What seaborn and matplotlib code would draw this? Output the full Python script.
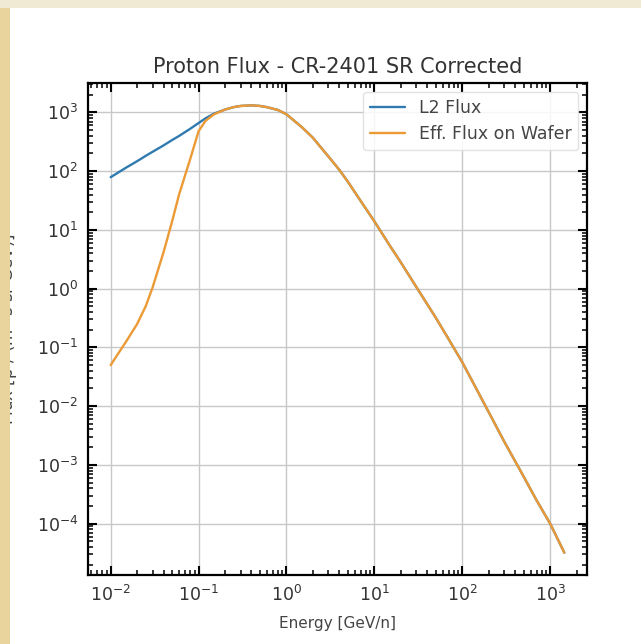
import numpy as np
import pandas as pd
import matplotlib
matplotlib.use("Agg")
import matplotlib.pyplot as plt
import matplotlib.ticker as mticker
from matplotlib.collections import LineCollection
import seaborn as sns
from matplotlib.patches import Rectangle

# ---- data ----
energy = [0.01, 0.015, 0.02, 0.025, 0.03, 0.04, 0.05, 0.06, 0.08, 0.1,
          0.12, 0.15, 0.2, 0.25, 0.3, 0.4, 0.5, 0.6, 0.8, 1.0,
          1.5, 2.0, 3.0, 4.0, 5.0, 7.0, 10.0, 15.0, 20.0, 30.0,
          50.0, 70.0, 100.0, 200.0, 300.0, 500.0, 700.0, 1000.0, 1450.0]

l2_flux = [79, 115, 148, 182, 214, 275, 339, 398, 525, 660,
           794, 955, 1120, 1230, 1290, 1320, 1290, 1230, 1100, 930,
           560, 370, 178, 105, 66, 31, 14, 5.4, 2.8, 1.07,
           0.32, 0.138, 0.056, 0.0079, 0.0025, 6.3e-4, 2.5e-4, 1.0e-4, 3.2e-5]

eff_flux = [0.05, 0.126, 0.25, 0.5, 1.05, 4.2, 14, 40, 158, 480,
            720, 930, 1120, 1230, 1290, 1320, 1290, 1230, 1100, 930,
            560, 370, 178, 105, 66, 31, 14, 5.4, 2.8, 1.07,
            0.32, 0.138, 0.056, 0.0079, 0.0025, 6.3e-4, 2.5e-4, 1.0e-4, 3.2e-5]

series_names = ["L2 Flux", "Eff. Flux on Wafer"]
title = "Proton Flux - CR-2401 SR Corrected"
xlabel = "Energy [GeV/n]"
ylabel = "Flux [p / (m$^2$ s sr GeV)]"

df = pd.DataFrame({
    "Energy": energy * 2,
    "Flux": l2_flux + eff_flux,
    "Series": [series_names[0]] * len(energy) + [series_names[1]] * len(energy),
})

sns.set_theme(style="ticks", rc={
    "xtick.direction": "in", "ytick.direction": "in",
    "xtick.top": True, "ytick.right": True,
    "xtick.labelsize": 12.5, "ytick.labelsize": 12.5,
    "xtick.major.pad": 7, "ytick.major.pad": 7,
    "axes.edgecolor": "black", "axes.linewidth": 1.6,
})
plt.rcParams["font.family"] = ["DejaVu Sans"]

fig = plt.figure(figsize=(6.41, 6.44), dpi=100)
ax = fig.add_axes([88 / 641, 1 - 575 / 644, (587 - 88) / 641, (575 - 83) / 644])
ax.set_xscale("log")
ax.set_yscale("log")
sns.lineplot(data=df, x="Energy", y="Flux", hue="Series",
             palette=["#2f7bb0", "#eb9a35"], linewidth=1.7, ax=ax,
             sort=False, estimator=None)
ax.margins(x=0.05, y=0.05)
ax.autoscale_view()
ax.set_xlim(ax.get_xlim())
ax.set_ylim(ax.get_ylim())

ax.xaxis.set_major_locator(mticker.LogLocator(base=10, numticks=100))
ax.yaxis.set_major_locator(mticker.LogLocator(base=10, numticks=100))
ax.xaxis.set_minor_locator(mticker.LogLocator(base=10, subs=np.arange(2, 10), numticks=100))
ax.yaxis.set_minor_locator(mticker.LogLocator(base=10, subs=np.arange(2, 10), numticks=100))
ax.xaxis.set_minor_formatter(mticker.NullFormatter())
ax.yaxis.set_minor_formatter(mticker.NullFormatter())
ax.grid(True, which="major", color="#c8c8c8", linewidth=1.0)
ax.tick_params(which="both", length=0)
ax.tick_params(which="major", pad=7, labelcolor="#333333")

# inward tick marks on all four sides, placed from the axis locators
fig_w_px, fig_h_px = 641, 644
ax_w_px = (587 - 88)
ax_h_px = (575 - 83)
maj_px, min_px = 9.0, 5.0


def in_range(locs, lo, hi):
    lo, hi = min(lo, hi), max(lo, hi)
    return [v for v in locs if lo * (1 - 1e-9) <= v <= hi * (1 + 1e-9)]


xlo, xhi = ax.get_xlim()
ylo, yhi = ax.get_ylim()
x_major = in_range(ax.xaxis.get_majorticklocs(), xlo, xhi)
x_minor = in_range(ax.xaxis.get_minorticklocs(), xlo, xhi)
y_major = in_range(ax.yaxis.get_majorticklocs(), ylo, yhi)
y_minor = in_range(ax.yaxis.get_minorticklocs(), ylo, yhi)

for locs, length, lw in [(x_major, maj_px, 1.5), (x_minor, min_px, 1.1)]:
    L = length / ax_h_px
    segs = [[(v, 0), (v, L)] for v in locs] + [[(v, 1 - L), (v, 1)] for v in locs]
    ax.add_collection(LineCollection(segs, colors="black", linewidths=lw,
                                     transform=ax.get_xaxis_transform(),
                                     clip_on=False, zorder=3), autolim=False)
for locs, length, lw in [(y_major, maj_px, 1.5), (y_minor, min_px, 1.1)]:
    L = length / ax_w_px
    segs = [[(0, v), (L, v)] for v in locs] + [[(1 - L, v), (1, v)] for v in locs]
    ax.add_collection(LineCollection(segs, colors="black", linewidths=lw,
                                     transform=ax.get_yaxis_transform(),
                                     clip_on=False, zorder=3), autolim=False)

leg = ax.legend(loc="upper right", fontsize=12.5, framealpha=0.85,
                edgecolor="#dddddd")
for t in leg.get_texts():
    t.set_color("#444444")

ax.set_title(title, fontsize=15, color="#333333", pad=7)
ax.set_xlabel(xlabel, fontsize=11, color="#444444", labelpad=8)
ax.set_ylabel(ylabel, fontsize=12, color="#444444")
ax.yaxis.set_label_coords(-0.136, 0.5)

# screenshot background strips
fig.patches.append(Rectangle((0, 0), 10 / 641, 1, transform=fig.transFigure,
                             facecolor="#e8d49c", edgecolor="none", zorder=5))
fig.patches.append(Rectangle((0, 1 - 8 / 644), 1, 8 / 644, transform=fig.transFigure,
                             facecolor="#f0e9d4", edgecolor="none", zorder=5))

fig.savefig("out.png", dpi=100)
